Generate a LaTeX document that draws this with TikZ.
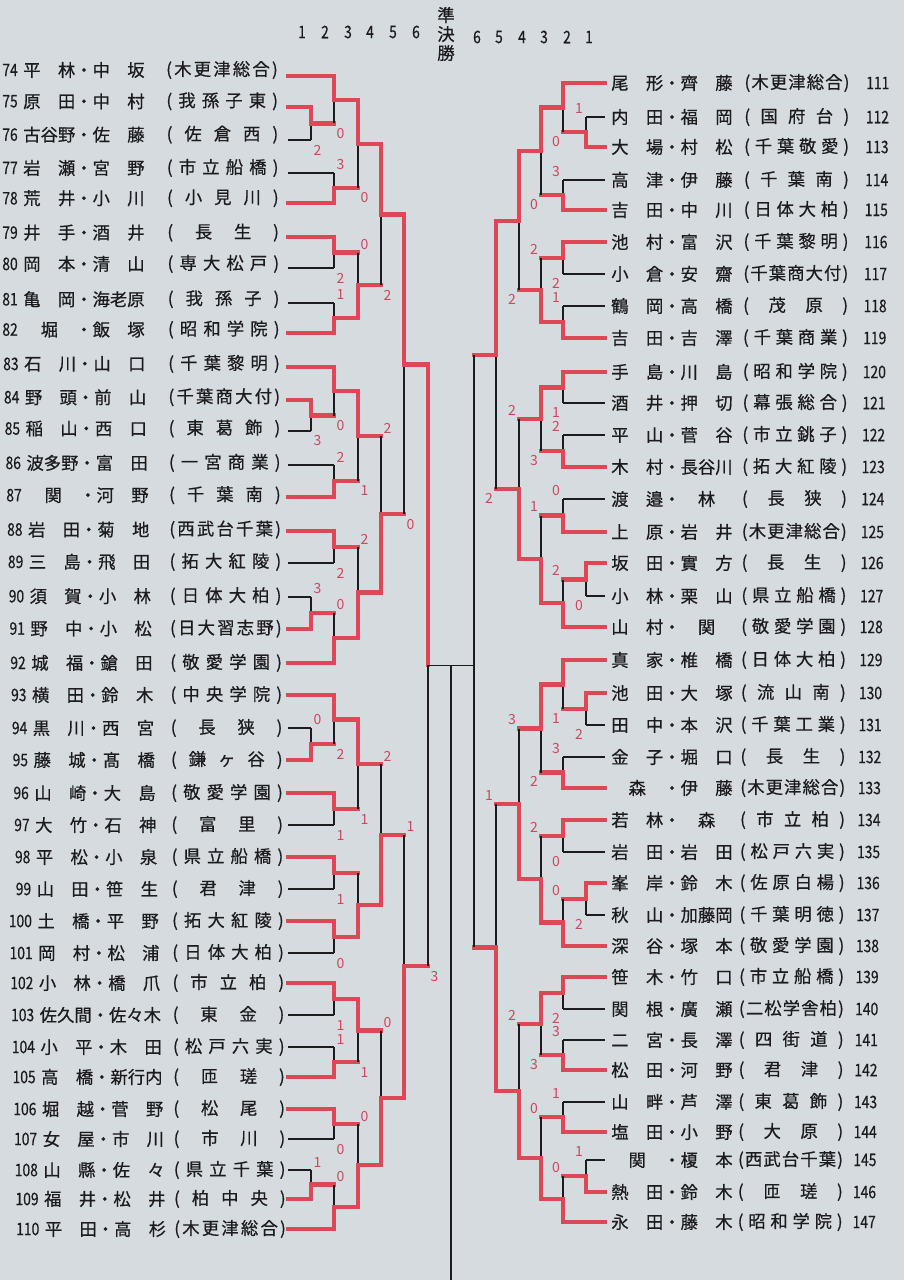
\documentclass[tikz,border=0pt]{standalone}
\usepackage{fontspec}
\usepackage{tikz}
\usetikzlibrary{calc}
\newfontfamily\jp[FakeBold=0.6]{Noto Sans CJK JP}
\newfontfamily\numfont[FakeStretch=0.8,FakeBold=0.5]{Noto Sans CJK JP}
\newfontfamily\scorefont{Noto Sans CJK JP}
\definecolor{paper}{RGB}{214,219,224}
\definecolor{bred}{RGB}{221,72,86}
\definecolor{sred}{RGB}{204,72,92}
\definecolor{ink}{RGB}{28,28,30}

% school names: letters spread over the box
\def\spreadit#1{\ifx\relax#1\else\hfil#1\hfil\expandafter\spreadit\fi}
\newcommand\school[2]{(\makebox[#1]{\expandafter\spreadit#2\relax})}

% one bout: name, column, winner, loser, loser line, score place, score
\newcommand\bout[7]{%
  \coordinate (#1h) at ($(#3)!0.5!(#4)$);
  \coordinate (#1) at (#2 |- #1h);
  \draw[win] (#3) -| (#1);
  \draw[#5] (#4) -- (#2 |- #4);
  \draw[lose] (#2 |- #4) -- (#1);
  \if\relax\detokenize{#7}\relax\else
    \node[score, #6] (#1s) at (#2 |- #4) {#7};
  \fi
}

\begin{document}
\begin{tikzpicture}[x=0.75pt, y=-0.75pt,
    win/.style={draw=bred, line width=3.1pt, line cap=rect},
    lose/.style={draw=ink, line width=1pt},
    score/.style={text=sred, font=\scorefont\fontsize{10.5}{10.5}\selectfont, inner sep=0pt},
    lup/.style={xshift=4.9pt, yshift=6pt},
    ldn/.style={xshift=4.9pt, yshift=-7.5pt},
    rup/.style={xshift=-5.2pt, yshift=6.5pt},
    rdn/.style={xshift=-5.2pt, yshift=-7pt},
    pname/.style={font=\jp\fontsize{13}{13}\selectfont, text=ink, inner sep=0pt, anchor=west},
    pschool/.style={font=\jp\fontsize{13}{13}\selectfont, text=ink, inner sep=0pt},
    pno/.style={font=\numfont\fontsize{13}{13}\selectfont, text=ink, inner sep=0pt},
    roundno/.style={font=\numfont\fontsize{13}{13}\selectfont, text=ink, inner sep=0pt},
]
    \useasboundingbox (0,0) rectangle (904,1280);
    \fill[paper] (0,0) rectangle (904,1280);

    % round numbers
    \foreach \i/\x in {1/302,2/325,3/348,4/370,5/393,6/416}
        \node[roundno] (hl\i) at (\x,32) {\i};
    \foreach \i/\x in {6/477,5/499,4/522,3/544,2/567,1/589}
        \node[roundno] (hr\i) at (\x,37) {\i};
    \node[font=\jp\fontsize{13}{14.25}\selectfont, text=ink, align=center, inner sep=0pt] (semi) at (446,34) {準\\決\\勝};

    % columns
    \foreach \i/\x in {1/311,2/334,3/358,4/381,5/404,6/428}
        \coordinate (L\i) at (\x,0);
    \foreach \i/\x in {1/586,2/563,3/541,4/519,5/496,6/474}
        \coordinate (R\i) at (\x,0);
    \coordinate (SF) at (451,0);

    % left block
    \foreach \no/\ly/\nm/\sc in {
        74/76/平　林・中　坂/木更津総合, 75/107/原　田・中　村/我孫子東,
        76/140/古谷野・佐　藤/佐倉西, 77/173/岩　瀬・宮　野/市立船橋,
        78/203/荒　井・小　川/小見川, 79/237/井　手・酒　井/長生,
        80/268/岡　本・清　山/専大松戸, 81/303/亀　岡・海老原/我孫子,
        82/333/　堀　・飯　塚/昭和学院, 83/367/石　川・山　口/千葉黎明,
        84/400/野　頭・前　山/千葉商大付, 85/431/稲　山・西　口/東葛飾,
        86/465/波多野・富　田/一宮商業, 87/497/　関　・河　野/千葉南,
        88/531/岩　田・菊　地/西武台千葉, 89/563/三　島・飛　田/拓大紅陵,
        90/597/須　賀・小　林/日体大柏, 91/629/野　中・小　松/日大習志野,
        92/663/城　福・鎗　田/敬愛学園, 93/695/横　田・鈴　木/中央学院,
        94/728/黒　川・西　宮/長狭, 95/760/藤　城・髙　橋/鎌ヶ谷,
        96/793/山　崎・大　島/敬愛学園, 97/825/大　竹・石　神/富里,
        98/857/平　松・小　泉/県立船橋, 99/889/山　田・笹　生/君津,
        100/921/土　橋・平　野/拓大紅陵, 101/953/岡　村・松　浦/日体大柏,
        102/983/小　林・橋　爪/市立柏, 103/1015/佐久間・佐々木/東金,
        104/1047/小　平・木　田/松戸六実, 105/1077/高　橋・新行内/匝瑳,
        106/1109/堀　越・菅　野/松尾, 107/1139/女　屋・市　川/市川,
        108/1170/山　縣・佐　々/県立千葉, 109/1199/福　井・松　井/柏中央,
        110/1229/平　田・高　杉/木更津総合}{
        \pgfmathsetmacro\nx{23+0.024*max(0,\ly-330)}
        \pgfmathsetmacro\ty{\ly-max(0,6-0.01*(\ly-76))}
        \coordinate (e\no) at (288,\ly);
        \node[pname] (t\no) at (\nx,\ty) {\nm};
        \node[pno, anchor=east] (no\no) at (\nx-5,\ty) {\no};
        \node[pschool] (s\no) at ({222+0.007*(\ly-76)},\ty) {\school{75pt}{\sc}};
    }

    % right block
    \foreach \no/\ly/\nm/\sc in {
        111/83/尾　形・齊　藤/木更津総合, 112/117/内　田・福　岡/国府台,
        113/147/大　場・村　松/千葉敬愛, 114/180/高　津・伊　藤/千葉南,
        115/210/吉　田・中　川/日体大柏, 116/242/池　村・富　沢/千葉黎明,
        117/274/小　倉・安　齋/千葉商大付, 118/306/鶴　岡・高　橋/茂原,
        119/338/吉　田・吉　澤/千葉商業, 120/372/手　島・川　島/昭和学院,
        121/403/酒　井・押　切/幕張総合, 122/435/平　山・菅　谷/市立銚子,
        123/467/木　村・長谷川/拓大紅陵, 124/499/渡　邉・　林　/長狭,
        125/532/上　原・岩　井/木更津総合, 126/563/坂　田・實　方/長生,
        127/596/小　林・栗　山/県立船橋, 128/627/山　村・　関　/敬愛学園,
        129/660/真　家・椎　橋/日体大柏, 130/693/池　田・大　塚/流山南,
        131/725/田　中・本　沢/千葉工業, 132/757/金　子・堀　口/長生,
        133/788/　森　・伊　藤/木更津総合, 134/820/若　林・　森　/市立柏,
        135/852/岩　田・岩　田/松戸六実, 136/883/峯　岸・鈴　木/佐原白楊,
        137/915/秋　山・加藤岡/千葉明徳, 138/946/深　谷・塚　本/敬愛学園,
        139/977/笹　木・竹　口/市立船橋, 140/1009/関　根・廣　瀬/二松学舎柏,
        141/1040/二　宮・長　澤/四街道, 142/1070/松　田・河　野/君津,
        143/1102/山　畔・芦　澤/東葛飾, 144/1132/塩　田・小　野/大原,
        145/1160/　関　・榎　本/西武台千葉, 146/1192/熱　田・鈴　木/匝瑳,
        147/1222/永　田・藤　木/昭和学院}{
        \coordinate (e\no) at (605,\ly);
        \node[pname] (t\no) at (611,\ly) {\nm};
        \node[pschool] (s\no) at ({797-0.006*(\ly-83)},\ly) {\school{70pt}{\sc}};
        \node[pno, anchor=west] (no\no) at ({866-0.012*(\ly-83)},\ly) {\no};
    }

    % left bouts
    \bout{j1}{L1}{e75}{e76}{lose}{ldn}{2}
    \bout{j2}{L2}{e74}{j1}{win}{ldn}{0}
    \bout{j3}{L2}{e78}{e77}{lose}{lup}{3}
    \bout{j4}{L3}{j2}{j3}{win}{ldn}{0}
    \bout{j5}{L2}{e79}{e80}{lose}{ldn}{2}
    \bout{j6}{L2}{e82}{e81}{lose}{lup}{1}
    \bout{j7}{L3}{j6}{j5}{win}{lup}{0}
    \bout{j8}{L4}{j4}{j7}{win}{ldn}{2}
    \bout{j9}{L1}{e84}{e85}{lose}{ldn}{3}
    \bout{j10}{L2}{e83}{j9}{win}{ldn}{0}
    \bout{j11}{L2}{e87}{e86}{lose}{lup}{2}
    \bout{j12}{L3}{j10}{j11}{win}{ldn}{1}
    \bout{j13}{L2}{e88}{e89}{lose}{ldn}{2}
    \bout{j14}{L1}{e91}{e90}{lose}{lup}{3}
    \bout{j15}{L2}{e92}{j14}{win}{lup}{0}
    \bout{j16}{L3}{j15}{j13}{win}{lup}{2}
    \bout{j17}{L4}{j16}{j12}{win}{lup}{2}
    \bout{j18}{L5}{j8}{j17}{win}{ldn}{0}
    \bout{j19}{L1}{e95}{e94}{lose}{lup}{0}
    \bout{j20}{L2}{e93}{j19}{win}{ldn}{2}
    \bout{j21}{L2}{e96}{e97}{lose}{ldn}{1}
    \bout{j22}{L3}{j20}{j21}{win}{ldn}{1}
    \bout{j23}{L2}{e98}{e99}{lose}{ldn}{1}
    \bout{j24}{L2}{e100}{e101}{lose}{ldn}{0}
    \bout{j25}{L3}{j24}{j23}{win}{lup}{}
    \bout{j26}{L4}{j25}{j22}{win}{lup}{2}
    \bout{j27}{L2}{e102}{e103}{lose}{ldn}{1}
    \bout{j28}{L2}{e105}{e104}{lose}{lup}{1}
    \bout{j29}{L3}{j27}{j28}{win}{ldn}{1}
    \bout{j30}{L2}{e106}{e107}{lose}{ldn}{0}
    \bout{j31}{L1}{e109}{e108}{lose}{lup}{1}
    \bout{j32}{L2}{e110}{j31}{win}{lup}{0}
    \bout{j33}{L3}{j32}{j30}{win}{lup}{0}
    \bout{j34}{L4}{j33}{j29}{win}{lup}{0}
    \bout{j35}{L5}{j34}{j26}{win}{lup}{1}
    \bout{j36}{L6}{j18}{j35}{win}{ldn}{3}

    % right bouts
    \bout{k1}{R1}{e113}{e112}{lose}{rup}{1}
    \bout{k2}{R2}{e111}{k1}{win}{rdn}{0}
    \bout{k3}{R2}{e115}{e114}{lose}{rup}{3}
    \bout{k4}{R3}{k2}{k3}{win}{rdn}{0}
    \bout{k5}{R2}{e116}{e117}{lose}{rdn}{2}
    \bout{k6}{R2}{e119}{e118}{lose}{rup}{1}
    \bout{k7}{R3}{k6}{k5}{win}{rup}{2}
    \bout{k8}{R4}{k4}{k7}{win}{rdn}{2}
    \bout{k9}{R2}{e120}{e121}{lose}{rdn}{1}
    \bout{k10}{R2}{e123}{e122}{lose}{rup}{2}
    \bout{k11}{R3}{k9}{k10}{win}{rdn}{3}
    \bout{k12}{R2}{e125}{e124}{lose}{rup}{0}
    \bout{k13}{R1}{e126}{e127}{lose}{rdn}{0}
    \bout{k14}{R2}{e128}{k13}{win}{rup}{2}
    \bout{k15}{R3}{k14}{k12}{win}{rup}{1}
    \bout{k16}{R4}{k15}{k11}{win}{rup}{2}
    \bout{k17}{R5}{k8}{k16}{win}{rdn}{2}
    \bout{k18}{R1}{e130}{e131}{lose}{rdn}{2}
    \bout{k19}{R2}{e129}{k18}{win}{rdn}{1}
    \bout{k20}{R2}{e133}{e132}{lose}{rup}{3}
    \bout{k21}{R3}{k19}{k20}{win}{rdn}{2}
    \bout{k22}{R2}{e134}{e135}{lose}{rdn}{0}
    \bout{k23}{R1}{e136}{e137}{lose}{rdn}{2}
    \bout{k24}{R2}{e138}{k23}{win}{rup}{0}
    \bout{k25}{R3}{k24}{k22}{win}{rup}{2}
    \bout{k26}{R4}{k25}{k21}{win}{rup}{3}
    \bout{k27}{R2}{e139}{e140}{lose}{rdn}{2}
    \bout{k28}{R2}{e142}{e141}{lose}{rup}{3}
    \bout{k29}{R3}{k27}{k28}{win}{rdn}{3}
    \bout{k30}{R2}{e144}{e143}{lose}{rup}{1}
    \bout{k31}{R1}{e146}{e145}{lose}{rup}{1}
    \bout{k32}{R2}{e147}{k31}{win}{rup}{0}
    \bout{k33}{R3}{k32}{k30}{win}{rup}{0}
    \bout{k34}{R4}{k33}{k29}{win}{rup}{2}
    \bout{k35}{R5}{k34}{k26}{win}{rup}{1}

    % round 6 (right) and semi-final
    \coordinate (r6a) at (R6 |- k17);
    \coordinate (r6b) at (R6 |- k35);
    \coordinate (r6c) at (R6 |- j36);
    \coordinate (sf1) at (SF |- j36);
    \coordinate (sf2) at (451,1280);
    \draw[win] (k17) -- (r6a);
    \draw[win] (k35) -- (r6b);
    \draw[lose] (r6a) -- (r6b);
    \draw[lose] (j36) -- (r6c);
    \draw[lose] (sf1) -- (sf2);
\end{tikzpicture}
\end{document}
